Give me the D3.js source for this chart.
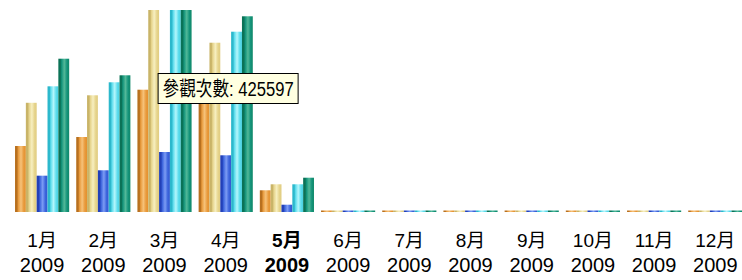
<!DOCTYPE html>
<html>
<head>
<meta charset="utf-8">
<script src="https://cdn.jsdelivr.net/npm/d3@7"></script>
<style>
  body { margin: 0; background: #fff; }
  svg { display: block; }
  text { font-family: "Liberation Sans", "Noto Sans CJK TC", sans-serif; }
</style>
</head>
<body>
<svg id="chart" width="742" height="280"></svg>
<script>
// Data
const months = ["1月", "2月", "3月", "4月", "5月", "6月", "7月", "8月", "9月", "10月", "11月", "12月"];
const years = ["2009", "2009", "2009", "2009", "2009", "2009", "2009", "2009", "2009", "2009", "2009", "2009"];
const currentMonth = "5月";
const seriesNames = ["a", "b", "c", "d", "e"];
const seriesA = [250800, 285000, 464700, 425597, 82500, 0, 0, 0, 0, 0, 0, 0];
const seriesB = [415000, 443500, 820000, 643300, 105300, 0, 0, 0, 0, 0, 0, 0];
const seriesC = [138000, 158500, 228000, 215500, 27700, 0, 0, 0, 0, 0, 0, 0];
const seriesD = [477600, 492900, 860000, 685100, 105300, 0, 0, 0, 0, 0, 0, 0];
const seriesE = [582500, 519500, 900000, 743700, 130300, 0, 0, 0, 0, 0, 0, 0];
const yMax = 767600;
const tipLabel = "參觀次數";

// cylinder-like shading per series: [edge, mid, light, right]
const palette = [
	["#b8701f", "#e89a3c", "#f6c27a", "#e3902e"],
	["#c9b468", "#e6d48c", "#f7efc0", "#e0cc80"],
	["#2240b8", "#3c64dc", "#7c9cf4", "#3358d0"],
	["#2cb8cc", "#5cdcec", "#b4f6fc", "#48d0e2"],
	["#0b7256", "#13937a", "#52b898", "#108868"]
];

function whenDocumentLoaded(action) {
	if (document.readyState === "loading") {
		document.addEventListener("DOMContentLoaded", action);
	} else {
		action();
	}
}

whenDocumentLoaded(() => {
	const series = [seriesA, seriesB, seriesC, seriesD, seriesE];
	const svg = d3.select("#chart");
	const baseY = 212, topY = 10;

	const x = d3.scaleBand()
		.domain(months)
		.range([11.5, 745.9])
		.paddingInner(0.115)
		.paddingOuter(0.0575);

	const xSub = d3.scaleBand()
		.domain(seriesNames)
		.range([0, x.bandwidth()]);

	const y = d3.scaleLinear()
		.domain([0, yMax])
		.range([baseY, topY]);

	const defs = svg.append("defs");
	palette.forEach((p, i) => {
		const g = defs.append("linearGradient")
			.attr("id", "grad" + i)
			.attr("x1", "0").attr("x2", "1").attr("y1", "0").attr("y2", "0");
		[[0, p[0]], [0.18, p[0]], [0.3, p[1]], [0.55, p[2]], [0.8, p[1]], [1, p[3]]]
			.forEach(s => g.append("stop").attr("offset", s[0]).attr("stop-color", s[1]));
	});

	defs.append("clipPath").attr("id", "plotClip")
		.append("rect")
		.attr("x", 0).attr("y", topY)
		.attr("width", 742).attr("height", baseY - topY + 1);

	const data = [];
	months.forEach((m, i) => {
		series.forEach((s, k) => data.push({ month: m, key: seriesNames[k], idx: k, value: s[i] }));
	});

	svg.append("g")
		.attr("clip-path", "url(#plotClip)")
		.selectAll("rect")
		.data(data)
		.enter()
		.append("rect")
			.attr("x", d => x(d.month) + xSub(d.key))
			.attr("width", xSub.bandwidth())
			.attr("y", d => Math.min(y(d.value), baseY - 1.5))
			.attr("height", d => Math.max(baseY - y(d.value), 1.5))
			.attr("fill", d => "url(#grad" + d.idx + ")");

	// X labels
	const labels = svg.append("g")
		.selectAll("g")
		.data(months)
		.enter()
		.append("g")
			.attr("transform", d => "translate(" + (x(d) + x.bandwidth() / 2) + ",0)")
			.attr("font-weight", d => d === currentMonth ? "bold" : "normal");

	labels.append("text")
		.attr("y", 247)
		.attr("text-anchor", "middle")
		.attr("font-size", 19)
		.attr("fill", "#000")
		.text(d => d);

	labels.append("text")
		.attr("y", 272)
		.attr("text-anchor", "middle")
		.attr("font-size", 20)
		.attr("fill", "#000")
		.text((d, i) => years[i]);

	// Tooltip for 4月 first series
	const tipMonth = months[3];
	const tipX = x(tipMonth) + xSub(seriesNames[0]) - 41;
	const tip = svg.append("g").attr("transform", "translate(" + tipX + ",73)");
	tip.append("rect")
		.attr("x", 0.5).attr("y", 0.5)
		.attr("width", 140).attr("height", 30)
		.attr("fill", "#ffffe1")
		.attr("stroke", "#000");
	tip.append("text")
		.attr("x", 5).attr("y", 23)
		.attr("font-size", 20)
		.attr("textLength", 131)
		.attr("lengthAdjust", "spacingAndGlyphs")
		.attr("fill", "#000")
		.text(tipLabel + ": " + seriesA[3]);
});
</script>
</body>
</html>
